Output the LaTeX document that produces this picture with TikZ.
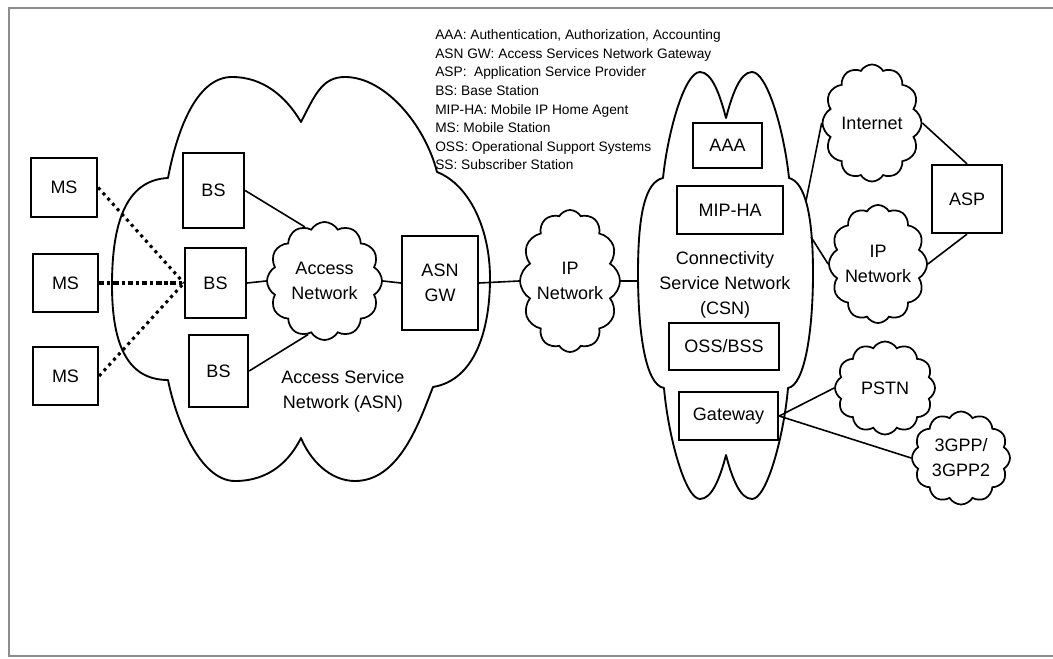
\documentclass[tikz,border=0pt]{standalone}
\usepackage{fontspec}
\setmainfont{Liberation Sans}
\usetikzlibrary{shapes.symbols}
\newdimen\pxu \pxu=0.75pt
\newcommand\mainsz{\fontsize{13.5}{18.7}\selectfont}
\newcommand\legsz{\fontsize{10.3}{12}\selectfont}
\begin{document}
\begin{tikzpicture}[x=0.75pt,y=-0.75pt,
  box/.style={draw, line width=1.7pt, inner sep=0pt, font=\mainsz, align=center},
  cl/.style={cloud, draw, line width=1.3pt, cloud puffs=12, cloud puff arc=120,
    cloud ignores aspect, inner sep=0pt, font=\mainsz, align=center},
  bigcloud/.style={draw, line width=1.4pt, line join=round},
  conn/.style={line width=1.2pt},
  dots/.style={line width=2.3pt, dash pattern=on 2.3pt off 3pt},
  dashdots/.style={line width=2.3pt, dash pattern=on 4pt off 2.2pt on 2.3pt off 2.2pt},
  lbl/.style={font=\mainsz, align=center, inner sep=0pt},
  legend/.style={anchor=base west, inner sep=0pt, font=\legsz},
  frame/.style={draw=black!45, line width=2.2pt}
]
\useasboundingbox (0,0) rectangle (1053,659);
\draw[frame] (1053,8) -- (9,8) -- (9,656) -- (1053,656);

% ASN big cloud
\draw[bigcloud] (168,178)
  .. controls (176,135) and (195,77) .. (232,77)
  .. controls (262,77) and (285,95) .. (301,122)
  .. controls (315,95) and (322,77) .. (345,77)
  .. controls (385,77) and (425,125) .. (437,172)
  .. controls (470,185) and (490,230) .. (490,278)
  .. controls (490,330) and (475,380) .. (433,387)
  .. controls (420,420) and (400,481) .. (355,481)
  .. controls (330,481) and (310,460) .. (301,438)
  .. controls (290,460) and (270,481) .. (235,481)
  .. controls (200,481) and (176,420) .. (168,380)
  .. controls (125,380) and (112,340) .. (112,285)
  .. controls (112,225) and (125,180) .. (168,178) -- cycle;

% CSN big cloud
\draw[bigcloud] (663,178)
  .. controls (668,130) and (685,72) .. (700,72)
  .. controls (712,72) and (720,95) .. (726,118)
  .. controls (732,95) and (740,72) .. (752,72)
  .. controls (767,72) and (784,130) .. (789,178)
  .. controls (805,182) and (813,215) .. (813,273)
  .. controls (813,330) and (805,385) .. (788,388)
  .. controls (784,435) and (767,499) .. (752,499)
  .. controls (740,499) and (732,478) .. (726,455)
  .. controls (720,478) and (712,499) .. (700,499)
  .. controls (685,499) and (668,435) .. (664,388)
  .. controls (645,385) and (638,330) .. (638,273)
  .. controls (638,215) and (645,182) .. (663,178) -- cycle;
\coordinate (csnL) at (638,281);
\coordinate (csnI) at (806,201);
\coordinate (csnP) at (811,237);

% legend
\node[legend] (l1) at (435,39.5) {AAA: Authentication, Authorization, Accounting};
\node[legend] (l2) at (435,58.1) {ASN GW: Access Services Network Gateway};
\node[legend] (l3) at (435,76.8) {ASP:\ \ Application Service Provider};
\node[legend] (l4) at (435,95.4) {BS: Base Station};
\node[legend] (l5) at (435,114.1) {MIP-HA: Mobile IP Home Agent};
\node[legend] (l6) at (435,132.7) {MS: Mobile Station};
\node[legend] (l7) at (435,151.4) {OSS: Operational Support Systems};
\node[legend] (l8) at (435,170) {SS: Subscriber Station};

% mobile stations
\node[box, minimum width=66\pxu, minimum height=59\pxu] (ms1) at (64,187.5) {MS};
\node[box, minimum width=65\pxu, minimum height=58\pxu] (ms2) at (65.5,283) {MS};
\node[box, minimum width=65\pxu, minimum height=58\pxu] (ms3) at (65.5,376) {MS};

% base stations
\node[box, minimum width=61\pxu, minimum height=75\pxu] (bs1) at (213.5,190.5) {BS};
\node[box, minimum width=61\pxu, minimum height=70\pxu] (bs2) at (215.5,283) {BS};
\node[box, minimum width=59\pxu, minimum height=72\pxu] (bs3) at (218.5,371) {BS};

\node[cl, minimum width=115\pxu, minimum height=118\pxu] (an) at (324.5,281) {Access\\Network};
\node[box, minimum width=76\pxu, minimum height=94\pxu] (gw) at (440,283) {ASN\\GW};
\node[cl, minimum width=100\pxu, minimum height=142\pxu] (ipn) at (570,281) {IP\\Network};
\node[lbl] (asnl) at (343,391.5) {Access Service\\Network (ASN)};

% CSN contents
\node[box, minimum width=69\pxu, minimum height=45\pxu] (aaa) at (727.5,145.5) {AAA};
\node[box, minimum width=106\pxu, minimum height=48\pxu] (mip) at (730,210) {MIP-HA};
\node[lbl] (csnl) at (725,285) {Connectivity\\Service Network\\(CSN)};
\node[box, minimum width=110\pxu, minimum height=47\pxu] (oss) at (724,346.5) {OSS/BSS};
\node[box, minimum width=99\pxu, minimum height=48\pxu] (gwy) at (728.5,416) {Gateway};

% outer networks
\node[cl, minimum width=99\pxu, minimum height=117\pxu] (inet) at (872,123) {Internet};
\node[cl, minimum width=97\pxu, minimum height=118\pxu] (ip2) at (878,264) {IP\\Network};
\node[box, minimum width=70\pxu, minimum height=68\pxu] (asp) at (967,199) {ASP};
\node[cl, minimum width=100\pxu, minimum height=93\pxu] (pstn) at (885,388) {PSTN};
\node[cl, minimum width=98\pxu, minimum height=93\pxu] (g3) at (961,458) {3GPP/\\3GPP2};

% connectors
\draw[dots] (ms1.east) -- (bs2.west);
\draw[dashdots] (ms2.east) -- (bs2.west);
\draw[dots] (ms3.east) -- (bs2.west);
\draw[conn] (bs1.east) -- (an.110);
\draw[conn] (bs2.east) -- (an.west);
\draw[conn] (bs3.east) -- (an.-107);
\draw[conn] (an.east) -- (gw.west);
\draw[conn] (gw.east) -- (ipn.west);
\draw[conn] (ipn.east) -- (csnL);
\draw[conn] (csnI) -- (inet.west);
\draw[conn] (csnP) -- (ip2.west);
\draw[conn] (inet.east) -- (asp.north);
\draw[conn] (ip2.east) -- (asp.south);
\draw[conn] (gwy.east) -- (pstn.west);
\draw[conn] (gwy.east) -- (g3.west);
\end{tikzpicture}
\end{document}
